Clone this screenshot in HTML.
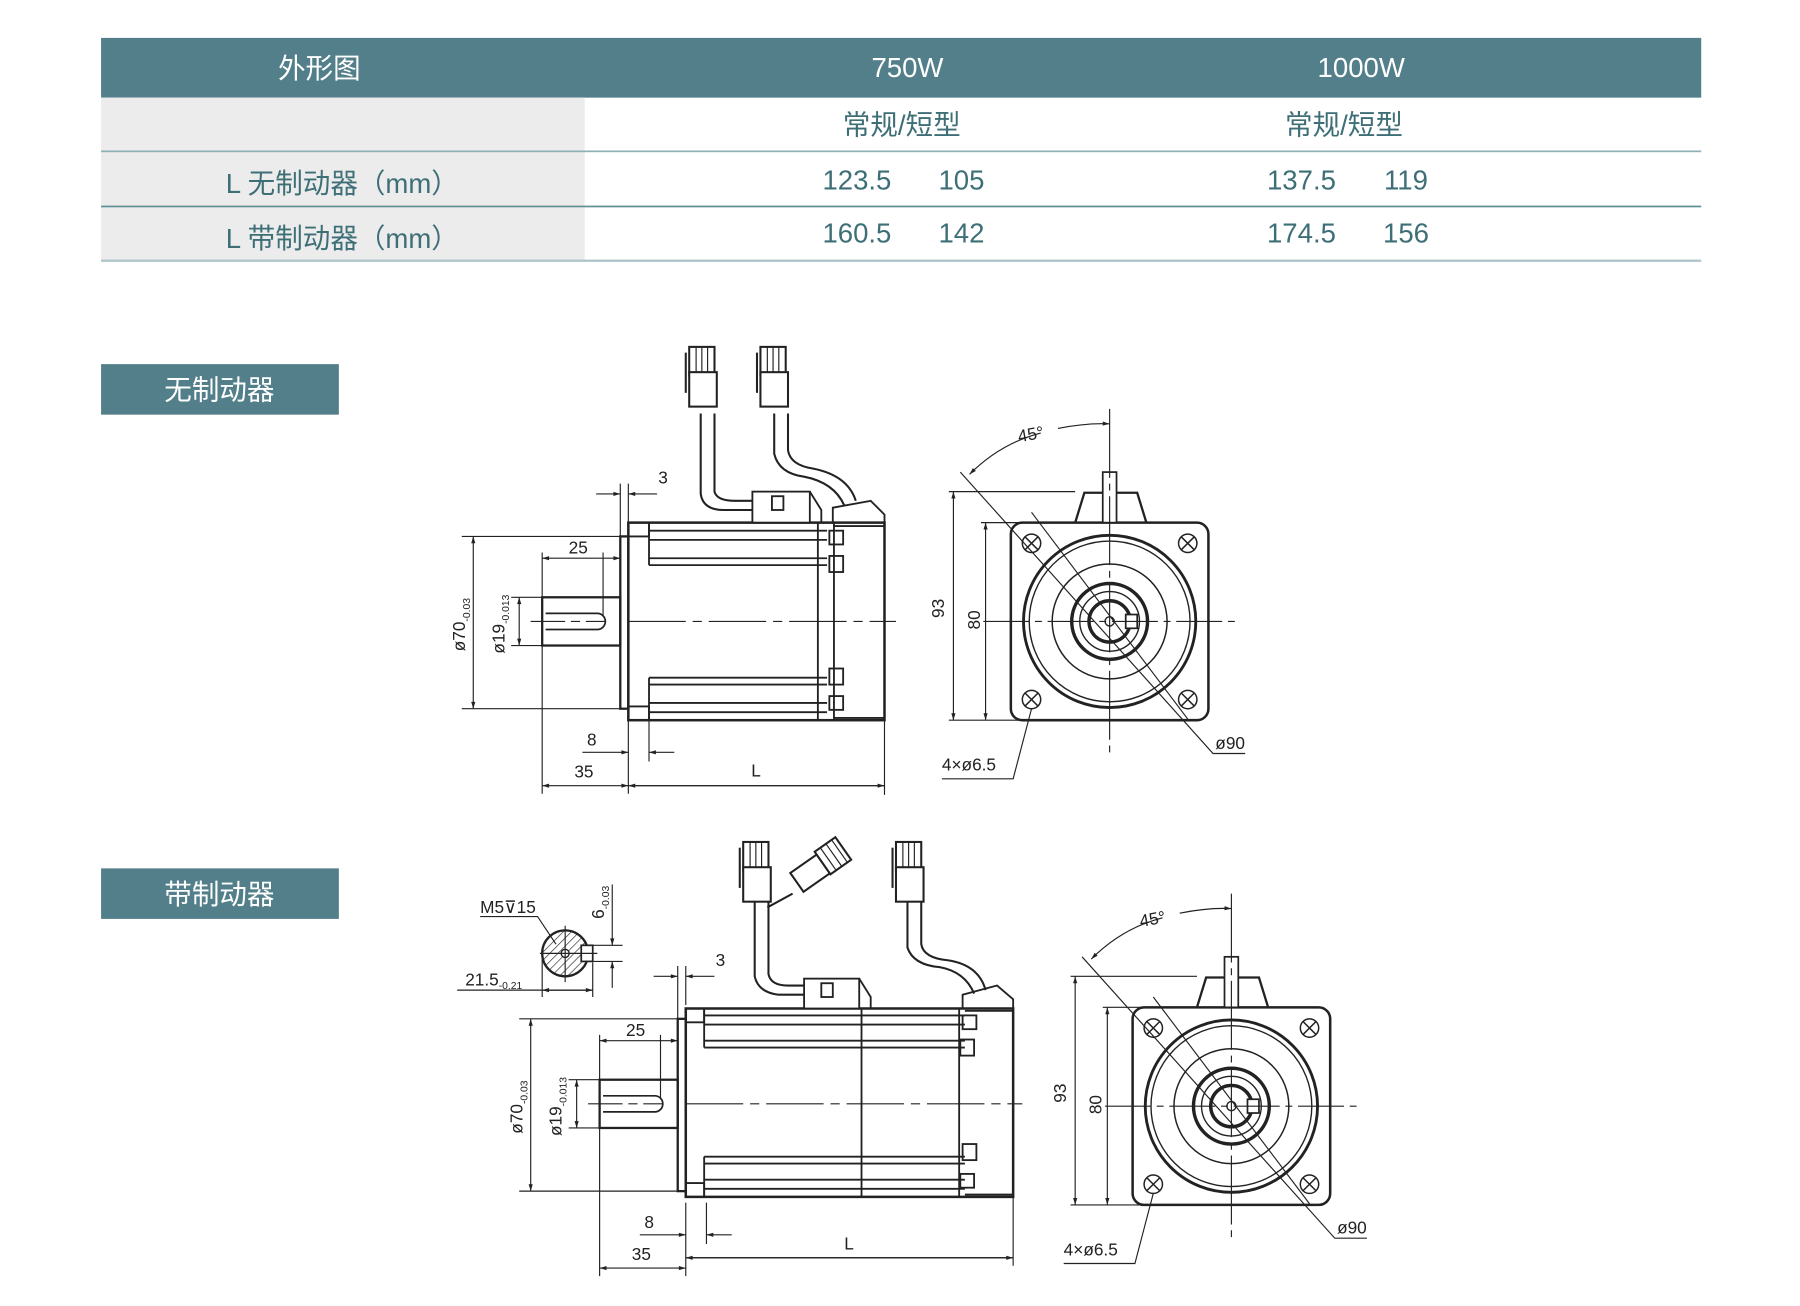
<!DOCTYPE html>
<html><head><meta charset="utf-8"><style>
html,body{margin:0;padding:0;background:#fff;width:1800px;height:1306px;overflow:hidden}
svg{display:block}
.t{font-family:"Liberation Sans","Noto Sans CJK SC",sans-serif}
.d{font-family:"Liberation Sans",sans-serif;font-size:15px;fill:#222}
</style></head><body>
<svg width="1800" height="1306" viewBox="0 0 1567 1137" preserveAspectRatio="none" xmlns="http://www.w3.org/2000/svg">
<defs>
<marker id="a" viewBox="0 0 10 10" refX="10" refY="5" markerWidth="9" markerHeight="6" orient="auto-start-reverse"><path d="M0,2 L10,5 L0,8 z" fill="#222"/></marker>
<pattern id="h" width="5" height="5" patternUnits="userSpaceOnUse" patternTransform="rotate(45)"><line x1="0" y1="0" x2="0" y2="5" stroke="#333" stroke-width="1.2"/></pattern>
<g id="fv" fill="none" stroke="#222">
 <rect x="-86" y="-86" width="172" height="172" rx="10" stroke-width="2.2"/>
 <circle r="75" stroke-width="2.5"/><circle r="70" stroke-width="1.2"/>
 <circle r="50" stroke-width="1.3"/><circle r="33" stroke-width="3"/>
 <circle r="26" stroke-width="1.2"/><circle r="18" stroke-width="3"/><circle r="4" stroke-width="1.2"/>
 <rect x="14" y="-6" width="10" height="12" stroke-width="1.5" fill="#fff"/>
 <path d="M-30 -86 L-22 -112 L24 -112 L32 -86" stroke-width="2"/>
 <rect x="-6" y="-130" width="12" height="44" stroke-width="1.5" fill="#fff"/>
 <g stroke-width="1.3">
  <circle cx="-68" cy="-68" r="8"/><circle cx="68" cy="-68" r="8"/><circle cx="-68" cy="68" r="8"/><circle cx="68" cy="68" r="8"/>
  <path d="M-74 -74 L-62 -62 M-62 -74 L-74 -62 M62 -74 L74 -62 M74 -74 L62 -62 M-74 62 L-62 74 M-62 62 L-74 74 M62 62 L74 74 M74 62 L62 74"/>
 </g>
 <g stroke-width="1">
  <path d="M-110 0 H112" stroke-dasharray="40 5 6 5"/>
  <path d="M0 -185 V115" stroke-dasharray="60 5 6 5"/>
  <path d="M-130 -130 L90 115 H118"/>
  <path d="M-68 -95 L68 85"/>
  <path d="M-136 -113 V86" marker-start="url(#a)" marker-end="url(#a)"/>
  <path d="M-108 -86 V86" marker-start="url(#a)" marker-end="url(#a)"/>
  <path d="M-140 -113 H-30 M-140 86 H-70 M-112 -86 H-75"/>
  <path d="M-68 76 L-84 137 H-146"/>
  <path d="M-122 -128 Q-95 -155 -60 -164" marker-start="url(#a)"/>
  <path d="M-45 -168 Q-20 -173 0 -172" marker-end="url(#a)"/>
 </g>
</g>
<g id="sf" fill="none" stroke="#222">
 <rect x="-75" y="-21" width="68" height="42" stroke-width="2"/>
 <path d="M-72 -7 H-27 A7 7 0 0 1 -27 7 H-72" stroke-width="1.5"/>
 <rect x="-7" y="-74" width="7" height="150" stroke-width="2"/>
 <g stroke-width="1">
  <path d="M-85 0 H-20" stroke-dasharray="30 5 8 5"/>
  <path d="M-75 -60 V150 M0 86 V150 M18 86 V122"/>
  <path d="M-75 -55 H-7" marker-start="url(#a)" marker-end="url(#a)"/>
  <path d="M-22 -60 V-5"/>
  <path d="M-75 143 H0" marker-start="url(#a)" marker-end="url(#a)"/>
  <path d="M-40 114 H0" marker-end="url(#a)"/><path d="M40 114 H18" marker-end="url(#a)"/>
  <path d="M-135 -74 V76" marker-start="url(#a)" marker-end="url(#a)"/>
  <path d="M-145 -74 H-7 M-145 76 H-7"/>
  <path d="M-95 -21 V21" marker-start="url(#a)" marker-end="url(#a)"/>
  <path d="M-102 -21 H-75 M-102 21 H-75"/>
  <path d="M-7 -120 V-74 M0 -120 V-86"/>
  <path d="M-28 -111 H-7" marker-end="url(#a)"/><path d="M25 -111 H0" marker-end="url(#a)"/>
 </g>
 <text class="d" x="-52" y="-59" stroke="none">25</text>
 <text class="d" x="-36" y="108" stroke="none">8</text>
 <text class="d" x="-47" y="136" stroke="none">35</text>
 <text class="d" x="26" y="-120" stroke="none">3</text>
 <text class="d" transform="translate(-142,26) rotate(-90)" stroke="none" font-size="13">ø70<tspan font-size="9" dy="4">-0.03</tspan></text>
 <text class="d" transform="translate(-108,28) rotate(-90)" stroke="none" font-size="12">ø19<tspan font-size="9" dy="4">-0.013</tspan></text>
</g>
<g id="conn" fill="#fff" stroke="#222" stroke-width="1.8">
 <rect x="0" y="0" width="22" height="25"/><path d="M6 0 V25 M11 0 V25 M16 0 V25" stroke-width="1"/>
 <rect x="0" y="22" width="24" height="30"/><path d="M-3 5 V40" fill="none"/>
</g>
</defs>

<rect x="88" y="33" width="1393" height="52" fill="#527f89"/>
<rect x="88" y="85" width="421" height="142" fill="#ececec"/>
<rect x="88" y="131" width="1393" height="1.5" fill="#8fb0b5"/>
<rect x="88" y="179" width="1393" height="1.5" fill="#5f9096"/>
<rect x="88" y="226" width="1393" height="2" fill="#adc5c9"/>
<g class="t" font-size="24" text-anchor="middle">
 <text x="278" y="68" fill="#fff">外形图</text>
 <text x="790" y="67" fill="#fff">750W</text>
 <text x="1185" y="67" fill="#fff">1000W</text>
 <g fill="#3e6f77">
 <text x="785" y="117">常规/短型</text><text x="1170" y="117">常规/短型</text>
 <text x="298" y="168">L 无制动器（mm）</text><text x="298" y="216">L 带制动器（mm）</text>
 <text x="746" y="165">123.5</text><text x="837" y="165">105</text>
 <text x="1133" y="165">137.5</text><text x="1224" y="165">119</text>
 <text x="746" y="211">160.5</text><text x="837" y="211">142</text>
 <text x="1133" y="211">174.5</text><text x="1224" y="211">156</text>
 </g>
</g>
<rect x="88" y="317" width="207" height="44" fill="#527f89"/>
<rect x="88" y="756" width="207" height="44" fill="#527f89"/>
<text class="t" x="191" y="348" font-size="24" fill="#fff" text-anchor="middle">无制动器</text>
<text class="t" x="191" y="787" font-size="24" fill="#fff" text-anchor="middle">带制动器</text>

<use href="#sf" x="547" y="541"/>
<g fill="none" stroke="#222">
 <rect x="547" y="455" width="223" height="172" stroke-width="2.2"/>
 <path d="M547 541 H780" stroke-width="1" stroke-dasharray="50 6 8 6"/>
 <g stroke-width="1.6">
  <path d="M547 467 H565 V455 M547 615 H565 V627"/>
  <path d="M565 462 H720 M565 470 H720 M565 486 H720 M565 492 H720 M565 455 V492"/>
  <path d="M565 590 H720 M565 596 H720 M565 612 H720 M565 620 H720 M565 590 V627"/>
  <path d="M712 455 V627 M726 455 V627 M726 458 H770 M726 625 H770"/>
  <rect x="722" y="462" width="12" height="12"/><rect x="722" y="484" width="12" height="14"/>
  <rect x="722" y="582" width="12" height="14"/><rect x="722" y="606" width="12" height="12"/>
  <rect x="655" y="428" width="50" height="27" fill="#fff"/><rect x="672" y="432" width="10" height="12"/>
  <path d="M705 428 L715 444 V455"/>
  <path d="M725 455 V442 L758 436 L770 448 V455"/>
  <path d="M610 360 V430 Q612 444 630 444 H655 M622 360 V428 Q624 436 640 436 H655" stroke-width="1.8"/>
  <path d="M674 360 V395 Q678 412 700 415 Q726 420 735 440 M686 360 V392 Q688 405 708 408 Q738 414 745 436" stroke-width="1.8"/>
 </g>
 <path d="M770 627 V692 M547 684 H770" stroke-width="1"/>
 <path d="M547 684 H770" stroke-width="1" marker-start="url(#a)" marker-end="url(#a)"/>
</g>
<use href="#conn" x="600" y="302"/>
<use href="#conn" x="662" y="302"/>
<text class="d" x="654" y="676">L</text>
<use href="#fv" x="966" y="541"/>
<text class="d" x="887" y="385" transform="rotate(-10 887 385)">45°</text>
<text class="d" transform="translate(822,538) rotate(-90)">93</text>
<text class="d" transform="translate(853,548) rotate(-90)">80</text>
<text class="d" x="1058" y="652">ø90</text>
<text class="d" x="820" y="671">4×ø6.5</text>

<use href="#sf" x="597" y="961"/>
<g fill="none" stroke="#222">
 <rect x="597" y="878" width="285" height="164" stroke-width="2.2"/>
 <path d="M597 961 H890" stroke-width="1" stroke-dasharray="50 6 8 6"/>
 <g stroke-width="1.6">
  <path d="M597 890 H613 V878 M597 1030 H613 V1042"/>
  <path d="M613 884 H840 M613 892 H840 M613 906 H840 M613 912 H840 M613 878 V912"/>
  <path d="M613 1007 H840 M613 1013 H840 M613 1027 H840 M613 1035 H840 M613 1007 V1042"/>
  <path d="M750 878 V1042 M835 878 V1042 M840 880 H882 M840 1040 H882"/>
  <rect x="838" y="884" width="12" height="12"/><rect x="836" y="905" width="12" height="14"/>
  <rect x="838" y="996" width="12" height="14"/><rect x="836" y="1022" width="12" height="12"/>
  <rect x="700" y="852" width="48" height="26" fill="#fff"/><rect x="715" y="856" width="10" height="12"/>
  <path d="M748 852 L758 868 V878"/>
  <path d="M838 878 V866 L868 858 L882 870 V878"/>
  <path d="M657 785 V850 Q660 864 678 866 H700 M669 785 V848 Q671 858 686 858 H700" stroke-width="1.8"/>
  <path d="M790 785 V825 Q795 840 818 842 Q840 846 848 865 M802 785 V822 Q804 834 825 836 Q852 840 858 862" stroke-width="1.8"/>
  <path d="M668 790 L690 778" stroke-width="1.8"/>
 </g>
 <path d="M882 1042 V1102 M597 1095 H882" stroke-width="1"/>
 <path d="M597 1095 H882" stroke-width="1" marker-start="url(#a)" marker-end="url(#a)"/>
 <g transform="translate(688,760) rotate(-35)" fill="#fff" stroke-width="1.8"><rect x="0" y="0" width="28" height="20"/><rect x="28" y="-3" width="22" height="24"/><path d="M34 -3 V21 M40 -3 V21 M46 -3 V21" stroke-width="1"/></g>
 <circle cx="492" cy="830" r="20" fill="url(#h)" stroke-width="2"/>
 <rect x="506" y="823" width="10" height="14" fill="#fff" stroke-width="1.5"/>
 <circle cx="492" cy="830" r="3.5" fill="#fff" stroke-width="1.2"/>
 <g stroke-width="1">
  <path d="M470 830 H520 M492 806 V855"/>
  <path d="M418 798 H468 L484 822"/>
  <path d="M472 835 V868 M516 838 V868 M398 862 H516"/>
  <path d="M472 862 H516" marker-start="url(#a)" marker-end="url(#a)"/>
  <path d="M516 823 H542 M516 837 H542"/>
  <path d="M533 770 V823" marker-end="url(#a)"/><path d="M533 860 V837" marker-end="url(#a)"/>
 </g>
</g>
<use href="#conn" x="647" y="733"/>
<use href="#conn" x="780" y="733"/>
<text class="d" x="735" y="1088">L</text>
<text class="d" x="418" y="795" font-size="14">M5⊽15</text>
<text class="d" x="405" y="858" font-size="14">21.5<tspan font-size="9" dy="3">-0.21</tspan></text>
<text class="d" transform="translate(526,800) rotate(-90)" font-size="14">6<tspan font-size="9" dy="4">-0.03</tspan></text>
<use href="#fv" x="1072" y="963"/>
<text class="d" x="993" y="807" transform="rotate(-10 993 807)">45°</text>
<text class="d" transform="translate(928,960) rotate(-90)">93</text>
<text class="d" transform="translate(959,970) rotate(-90)">80</text>
<text class="d" x="1164" y="1074">ø90</text>
<text class="d" x="926" y="1093">4×ø6.5</text>
</svg>
</body></html>
